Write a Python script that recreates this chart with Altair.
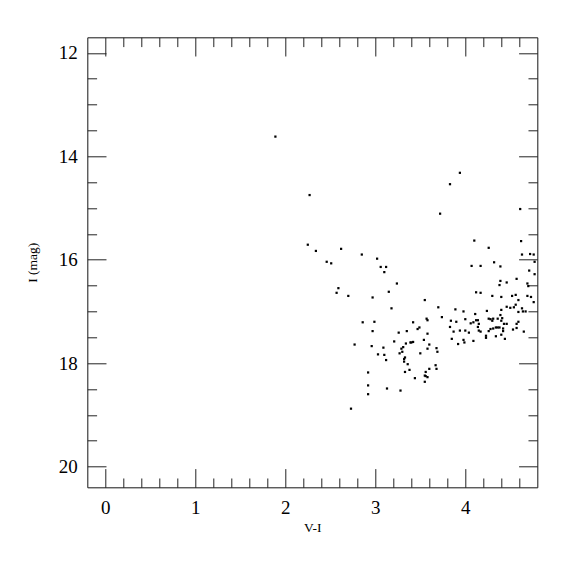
import altair as alt
import pandas as pd

v_minus_i = [
    1.89, 2.27, 2.25, 2.34, 2.62, 2.46, 2.51, 2.85, 3.02, 3.06, 3.12, 3.10,
    3.24, 2.59, 2.57, 3.15, 2.70, 2.97, 3.18, 2.86, 2.99, 2.97, 3.26, 3.21,
    2.77, 2.96, 3.09, 3.27, 3.03, 3.10, 3.12, 2.92, 2.92, 3.13, 2.92, 2.73,
    3.94, 3.83, 3.72, 4.61, 4.10, 4.62, 4.26, 4.63, 4.72, 4.76,
    4.07, 4.17, 4.32, 4.39, 4.77, 4.71, 4.77, 4.39, 4.38, 4.46, 4.57, 4.69,
    4.70, 4.12, 4.17, 3.55, 4.30, 4.40, 4.52, 4.56, 4.59, 4.69, 4.73, 4.76,
    3.70, 3.89, 3.98, 4.24, 4.40, 4.46, 4.50, 4.54, 4.56, 4.59, 4.63, 4.64,
    4.67, 4.39, 4.11, 4.00, 3.74, 3.57, 3.58, 3.42, 3.84, 3.90, 4.06, 4.09,
    4.12, 4.14, 4.15, 4.26, 4.28, 4.31, 4.30, 4.36, 4.40, 4.43, 4.46, 4.41,
    4.57, 4.59, 3.49, 3.47, 3.35, 3.58, 3.83, 3.87, 3.94, 4.00, 4.04, 4.14,
    4.15, 4.17, 4.26, 4.28, 4.31, 4.34, 4.36, 4.38, 4.42, 4.42, 4.53, 4.57,
    4.65, 3.85, 3.92, 3.98, 3.99, 4.09, 4.23, 4.23, 4.34, 4.40, 4.44, 3.39,
    3.40, 3.42, 3.34, 3.54, 3.60, 3.31, 3.29, 3.30, 3.58, 3.50, 3.69, 3.68,
    3.33, 3.32, 3.32, 3.36, 3.33, 3.38, 3.44, 3.56, 3.55, 3.56, 3.58, 3.55,
    3.60, 3.67, 3.68, 3.28,
]
i_mag = [
    13.62, 14.75, 15.71, 15.83, 15.79, 16.04, 16.07, 15.90, 15.98, 16.14, 16.14, 16.24,
    16.46, 16.55, 16.64, 16.62, 16.70, 16.73, 16.94, 17.21, 17.20, 17.38, 17.41, 17.58,
    17.64, 17.67, 17.70, 17.81, 17.83, 17.84, 17.94, 18.18, 18.43, 18.49, 18.60, 18.88,
    14.32, 14.54, 15.11, 15.02, 15.63, 15.64, 15.77, 15.90, 15.89, 15.90,
    16.12, 16.12, 16.05, 16.13, 16.04, 16.21, 16.28, 16.41, 16.49, 16.44, 16.37, 16.46,
    16.51, 16.63, 16.64, 16.78, 16.70, 16.72, 16.70, 16.68, 16.78, 16.70, 16.72, 16.82,
    16.92, 16.96, 17.00, 16.99, 16.97, 16.91, 16.93, 16.92, 16.87, 17.01, 16.94, 17.00,
    17.00, 17.07, 17.05, 17.15, 17.11, 17.14, 17.17, 17.21, 17.18, 17.20, 17.23, 17.21,
    17.17, 17.17, 17.24, 17.14, 17.15, 17.14, 17.18, 17.14, 17.18, 17.24, 17.24, 17.13,
    17.24, 17.20, 17.31, 17.34, 17.38, 17.43, 17.30, 17.39, 17.37, 17.37, 17.41, 17.30,
    17.37, 17.39, 17.38, 17.34, 17.33, 17.31, 17.31, 17.31, 17.33, 17.38, 17.35, 17.32,
    17.39, 17.53, 17.63, 17.55, 17.60, 17.57, 17.47, 17.51, 17.48, 17.45, 17.53, 17.60,
    17.60, 17.59, 17.62, 17.55, 17.64, 17.69, 17.72, 17.78, 17.72, 17.81, 17.78, 17.71,
    17.89, 17.92, 17.97, 18.02, 18.17, 18.13, 18.29, 18.17, 18.24, 18.25, 18.27, 18.36,
    18.11, 18.04, 18.11, 18.53,
]

x_major = [0, 1, 2, 3, 4]
x_minor = [0.2, 0.4, 0.6, 0.8, 1.2, 1.4, 1.6, 1.8, 2.2, 2.4, 2.6, 2.8,
           3.2, 3.4, 3.6, 3.8, 4.2, 4.4, 4.6]
y_major = [12, 14, 16, 18, 20]
y_minor = [12.5, 13, 13.5, 14.5, 15, 15.5, 16.5, 17, 17.5, 18.5, 19, 19.5]

df = pd.DataFrame({"vi": v_minus_i, "imag": i_mag})

W = 450
H = 450
FONT = "Liberation Serif"
INK = "#222222"
MAJOR = 18.7
MINOR = 9.3

xscale = alt.Scale(domain=[-0.2, 4.8], nice=False, zero=False)
yscale = alt.Scale(domain=[11.7, 20.4], nice=False, zero=False, reverse=True)

base = alt.Chart(df)

points = base.mark_square(size=5, color="black", opacity=1).encode(
    x=alt.X("vi:Q", scale=xscale, axis=alt.Axis(
        orient="bottom", values=x_major, format="d", ticks=False, tickSize=0,
        domain=False, grid=False, labelFont=FONT, labelFontSize=19,
        labelColor="black", labelPadding=11, title="V-I", titleFont=FONT,
        titleFontSize=13.5, titleFontWeight="normal", titleColor="black",
        titlePadding=3)),
    y=alt.Y("imag:Q", scale=yscale, axis=alt.Axis(
        orient="left", values=y_major, format="d", ticks=False, tickSize=0,
        domain=False, grid=False, labelFont=FONT, labelFontSize=19,
        labelColor="black", labelPadding=10, title="I (mag)", titleFont=FONT,
        titleFontSize=13.5, titleFontWeight="normal", titleColor="black",
        titlePadding=19)),
)


def tick_layer(xorient, yorient, xvals, yvals, size, show_domain):
    return base.mark_point(opacity=0).encode(
        x=alt.X("vi:Q", scale=xscale, axis=alt.Axis(
            orient=xorient, offset=-H, values=xvals, labels=False,
            domain=show_domain, domainColor=INK, domainWidth=1,
            grid=False, ticks=True, tickSize=size,
            tickColor=INK, tickWidth=1, title=None)),
        y=alt.Y("imag:Q", scale=yscale, axis=alt.Axis(
            orient=yorient, offset=-W, values=yvals, labels=False,
            domain=show_domain, domainColor=INK, domainWidth=1,
            grid=False, ticks=True, tickSize=size,
            tickColor=INK, tickWidth=1, title=None)),
    )


layers = [
    tick_layer("top", "right", x_major, y_major, MAJOR, True),
    tick_layer("top", "right", x_minor, y_minor, MINOR, False),
    tick_layer("bottom", "left", x_major, y_major, MAJOR, True),
    tick_layer("bottom", "left", x_minor, y_minor, MINOR, False),
    points,
]

chart = alt.layer(*layers).resolve_axis(
    x="independent", y="independent"
).properties(
    width=W,
    height=H,
    autosize=alt.AutoSizeParams(type="none"),
    padding={"left": 79.3, "top": 29.3, "right": 22, "bottom": 70},
).configure_view(
    strokeWidth=0
).configure(background="white")

chart.save("out.html", embed_options={"renderer": "svg", "actions": False})
